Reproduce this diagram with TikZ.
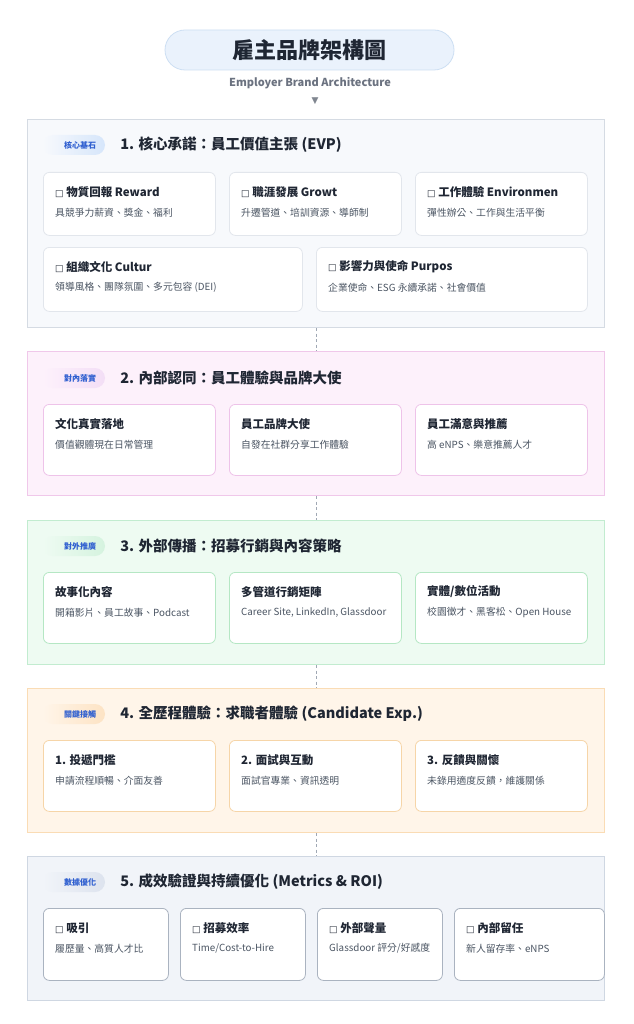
\documentclass[tikz,border=0pt]{standalone}
\usepackage{fontspec}
\setmainfont{Noto Sans CJK TC}
\newfontfamily\symfont{DejaVu Sans}
\usetikzlibrary{positioning}

\definecolor{inktext}{HTML}{1F2633}
\definecolor{subtext}{HTML}{4B5563}
\definecolor{greytext}{HTML}{6B7280}
\definecolor{tagblue}{HTML}{2F5FD0}
\definecolor{pillfill}{HTML}{EAF2FC}
\definecolor{pillline}{HTML}{CDDFF3}
\definecolor{linkgrey}{HTML}{A0A8B4}
% section colours
\definecolor{evpbg}{HTML}{F7F9FC}\definecolor{evpline}{HTML}{D5DBE3}\definecolor{evpcard}{HTML}{E2E6EC}\definecolor{evptag}{HTML}{D6E6FB}
\definecolor{intbg}{HTML}{FDF1FB}\definecolor{intline}{HTML}{F0C8EA}\definecolor{intcard}{HTML}{EEC3E9}\definecolor{inttag}{HTML}{F3DEF6}
\definecolor{extbg}{HTML}{EEFBF2}\definecolor{extline}{HTML}{C2ECD0}\definecolor{extcard}{HTML}{B5E7C4}\definecolor{exttag}{HTML}{D5F3DF}
\definecolor{canbg}{HTML}{FFF5E9}\definecolor{canline}{HTML}{FADCB5}\definecolor{cancard}{HTML}{F6D5A8}\definecolor{cantag}{HTML}{FDE3C4}
\definecolor{kpibg}{HTML}{F1F4F9}\definecolor{kpiline}{HTML}{CFD7E2}\definecolor{kpicard}{HTML}{AAB3C0}\definecolor{kpitag}{HTML}{DDE3EE}

\tikzset{titlepill/.style={draw=pillline, fill=pillfill, line width=0.8pt, rounded corners=20pt,
    minimum width=289pt, minimum height=40pt, text=inktext, font=\fontsize{22}{22}\selectfont\bfseries}}
\tikzset{subtitle/.style={text=greytext, font=\fontsize{11}{11}\selectfont\bfseries}}
\tikzset{section/.style={rectangle, line width=1pt, anchor=north west, minimum width=577pt, inner sep=0pt}}
\tikzset{tagpill/.style={rectangle, rounded corners=10pt, minimum width=62pt, minimum height=20pt, inner sep=0pt}}
\tikzset{tagtext/.style={text=tagblue, font=\fontsize{8}{8}\selectfont\bfseries}}
\tikzset{heading/.style={text=inktext, font=\fontsize{14.5}{14.5}\selectfont\bfseries, inner sep=0pt}}
\tikzset{cardbox/.style={rectangle, fill=white, line width=0.8pt, rounded corners=6pt, anchor=north west, inner sep=0pt}}
\tikzset{cardtitle/.style={anchor=west, inner sep=0pt, text=inktext, font=\fontsize{11.5}{11.5}\selectfont\bfseries}}
\tikzset{cardsub/.style={anchor=west, inner sep=0pt, text=subtext, font=\fontsize{9.8}{9.8}\selectfont}}
\tikzset{linkline/.style={draw=linkgrey, line width=1pt, dash pattern=on 3pt off 2.5pt}}

% name, x, y, width, height, border, title, text
\newcommand{\brandcard}[8]{%
  \node[cardbox, draw=#6, minimum width=#4pt, minimum height=#5pt] (#1) at (#2,#3) {};
  \node[cardtitle] (#1-t) at ([xshift=12pt,yshift=-20pt]#1.north west) {#7};
  \node[cardsub] (#1-s) at ([yshift=-20.5pt]#1-t.west) {#8};
}
\newcommand{\tofu}{{\fontsize{9}{9}\symfont □}\ }

\begin{document}
\begin{tikzpicture}[x=1pt, y=-1pt]
  \fill[white] (0,0) rectangle (633,1024);
  \useasboundingbox (0,0) rectangle (633,1024);

  % title
  \node[titlepill] (title) at (309.5,50) {雇主品牌架構圖};
  \node[subtitle] (subtitle) at (310,83) {Employer Brand Architecture};
  \node[text=linkgrey!80!black, inner sep=0pt, font=\fontsize{9}{9}\symfont] (tri) at (315,101) {▼};

  % 1. EVP
  \node[section, draw=evpline, fill=evpbg, minimum height=208pt] (sec1) at (27,119) {};
  \node[tagpill, left color=evpbg, right color=evptag] (tag1) at (74,145) {};
  \node[tagtext] at ([xshift=6pt]tag1.center) {核心基石};
  \node[heading, right=15pt of tag1] (head1) {1. 核心承諾：員工價值主張 (EVP)};
  \brandcard{evp1}{43}{172}{172}{63}{evpcard}{\tofu 物質回報 Reward}{具競爭力薪資、獎金、福利}
  \brandcard{evp2}{229}{172}{172}{63}{evpcard}{\tofu 職涯發展 Growt}{升遷管道、培訓資源、導師制}
  \brandcard{evp3}{415}{172}{172}{63}{evpcard}{\tofu 工作體驗 Environmen}{彈性辦公、工作與生活平衡}
  \brandcard{evp4}{43}{247}{259}{64}{evpcard}{\tofu 組織文化 Cultur}{領導風格、團隊氛圍、多元包容 (DEI)}
  \brandcard{evp5}{316}{247}{271}{64}{evpcard}{\tofu 影響力與使命 Purpos}{企業使命、ESG 永續承諾、社會價值}

  % 2. internal
  \node[section, draw=intline, fill=intbg, minimum height=144pt] (sec2) at (27,351) {};
  \node[tagpill, left color=intbg, right color=inttag] (tag2) at (74,378) {};
  \node[tagtext] at ([xshift=6pt]tag2.center) {對內落實};
  \node[heading, right=15pt of tag2] (head2) {2. 內部認同：員工體驗與品牌大使};
  \brandcard{int1}{43}{404}{172}{71}{intcard}{文化真實落地}{價值觀體現在日常管理}
  \brandcard{int2}{229}{404}{172}{71}{intcard}{員工品牌大使}{自發在社群分享工作體驗}
  \brandcard{int3}{415}{404}{172}{71}{intcard}{員工滿意與推薦}{高 eNPS、樂意推薦人才}

  % 3. external
  \node[section, draw=extline, fill=extbg, minimum height=144pt] (sec3) at (27,520) {};
  \node[tagpill, left color=extbg, right color=exttag] (tag3) at (74,546) {};
  \node[tagtext] at ([xshift=6pt]tag3.center) {對外推廣};
  \node[heading, right=15pt of tag3] (head3) {3. 外部傳播：招募行銷與內容策略};
  \brandcard{ext1}{43}{572}{172}{71}{extcard}{故事化內容}{開箱影片、員工故事、Podcast}
  \brandcard{ext2}{229}{572}{172}{71}{extcard}{多管道行銷矩陣}{Career Site, LinkedIn, Glassdoor}
  \brandcard{ext3}{415}{572}{172}{71}{extcard}{實體/數位活動}{校園徵才、黑客松、Open House}

  % 4. candidate experience
  \node[section, draw=canline, fill=canbg, minimum height=144pt] (sec4) at (27,688) {};
  \node[tagpill, left color=canbg, right color=cantag] (tag4) at (74,714) {};
  \node[tagtext] at ([xshift=6pt]tag4.center) {關鍵接觸};
  \node[heading, right=15pt of tag4] (head4) {4. 全歷程體驗：求職者體驗 (Candidate Exp.)};
  \brandcard{can1}{43}{740}{172}{71}{cancard}{1. 投遞門檻}{申請流程順暢、介面友善}
  \brandcard{can2}{229}{740}{172}{71}{cancard}{2. 面試與互動}{面試官專業、資訊透明}
  \brandcard{can3}{415}{740}{172}{71}{cancard}{3. 反饋與關懷}{未錄用適度反饋，維護關係}

  % 5. metrics
  \node[section, draw=kpiline, fill=kpibg, minimum height=144pt] (sec5) at (27,856) {};
  \node[tagpill, left color=kpibg, right color=kpitag] (tag5) at (74,882) {};
  \node[tagtext] at ([xshift=6pt]tag5.center) {數據優化};
  \node[heading, right=15pt of tag5] (head5) {5. 成效驗證與持續優化 (Metrics \& ROI)};
  \brandcard{kpi1}{43}{908}{125}{72}{kpicard}{\tofu 吸引}{履歷量、高質人才比}
  \brandcard{kpi2}{180}{908}{125}{72}{kpicard}{\tofu 招募效率}{Time/Cost-to-Hire}
  \brandcard{kpi3}{317}{908}{125}{72}{kpicard}{\tofu 外部聲量}{Glassdoor 評分/好感度}
  \brandcard{kpi4}{454}{908}{150}{72}{kpicard}{\tofu 內部留任}{新人留存率、eNPS}

  % links
  \draw[linkline] (sec1) -- (sec2);
  \draw[linkline] (sec2) -- (sec3);
  \draw[linkline] (sec3) -- (sec4);
  \draw[linkline] (sec4) -- (sec5);
\end{tikzpicture}
\end{document}
